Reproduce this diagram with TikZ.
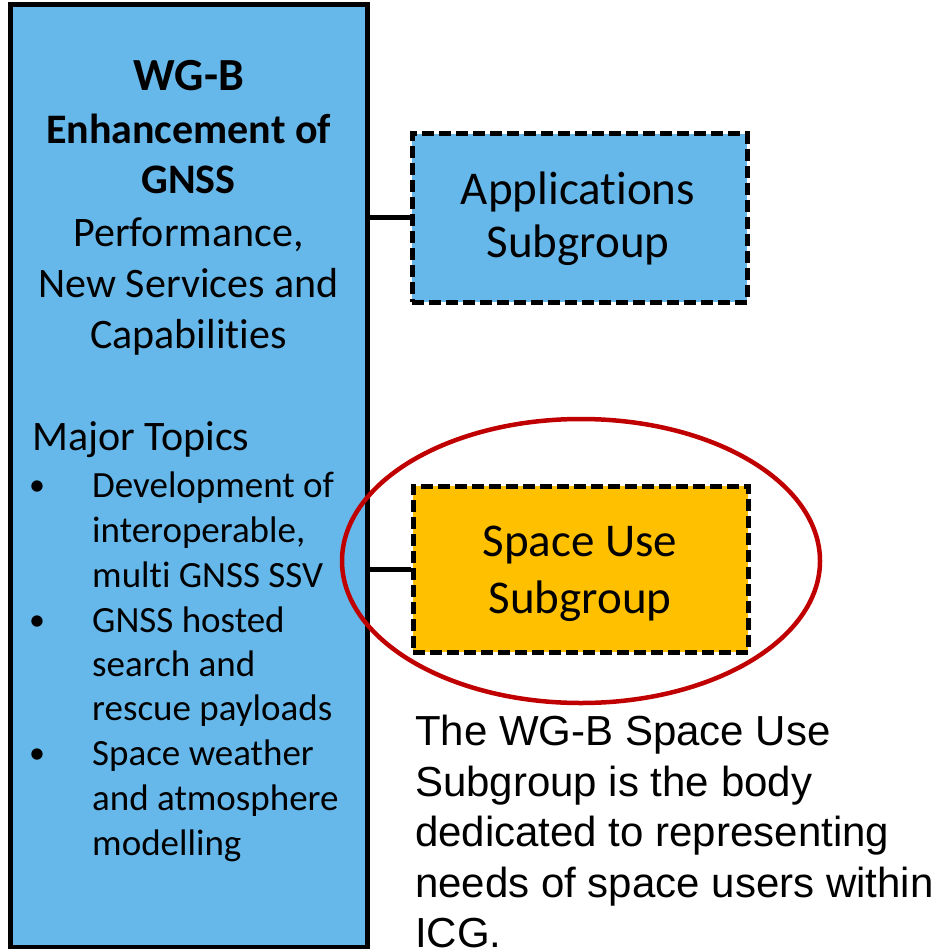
\documentclass[tikz,border=0pt]{standalone}
\usepackage{fontspec}
\setmainfont{Carlito}[Ligatures={CommonOff,ContextualOff}]
\newfontfamily\arialfont{Liberation Sans}
\usetikzlibrary{shapes.geometric}
\definecolor{boxblue}{HTML}{66B8EA}
\definecolor{boxorange}{HTML}{FFC000}
\definecolor{ringred}{HTML}{C00000}
\tikzset{
  mainbox/.style={draw=black, fill=boxblue, line width=5pt, inner sep=0pt},
  subbox/.style={draw=black, line width=5pt, dash pattern=on 12pt off 5pt, inner sep=0pt},
  conn/.style={draw=black, line width=5pt},
  hbold/.style={anchor=base, inner sep=0pt, font=\bfseries\fontsize{42}{51}\selectfont},
  hbig/.style={anchor=base, inner sep=0pt, font=\bfseries\fontsize{46}{55}\selectfont},
  hnorm/.style={anchor=base, inner sep=0pt, font=\fontsize{42}{51}\selectfont},
  bul/.style={anchor=base west, inner sep=0pt, font=\fontsize{37}{45}\selectfont},
  bdot/.style={anchor=base, inner sep=0pt, font=\fontsize{32}{45}\selectfont},
  subtxt/.style={anchor=base, inner sep=0pt, font=\fontsize{47}{57}\selectfont},
  desc/.style={anchor=base west, inner sep=0pt, font=\arialfont\fontsize{42}{50}\selectfont},
}
\begin{document}
\begin{tikzpicture}[x=1pt,y=-1pt]
\useasboundingbox (0,0) rectangle (944,949);
% main box
\node[mainbox, minimum width=357pt, minimum height=942pt] (main) at (188.5,476) {};
% sub boxes
\node[subbox, fill=boxblue, minimum width=335pt, minimum height=168pt] (app) at (579.5,218) {};
\node[subbox, fill=boxorange, minimum width=335pt, minimum height=166pt] (space) at (580.5,569) {};
% connectors
\draw[conn] (main.east |- app.west) -- (app.west);
\draw[conn] (main.east |- space.west) -- (space.west);
% heading text
\node[hbig]  (t1) at (189,90.5) {WG-B};
\node[hbold] (t2) at (188.5,144) {Enhancement of};
\node[hbold] (t3) at (188.5,194) {GNSS};
\node[hnorm] (t4) at (188.5,247) {Performance,};
\node[hnorm] (t5) at (188.5,297) {New Services and};
\node[hnorm] (t6) at (188.5,348) {Capabilities};
\node[hnorm, anchor=base west] (t7) at (32,450) {Major Topics};
% bullets
\node[bdot] (d1) at (37,495) {•};
\node[bul] (b1) at (92,497) {Development of};
\node[bul] (b2) at (92,542) {interoperable,};
\node[bul] (b3) at (92,587) {multi GNSS SSV};
\node[bdot] (d2) at (37,630) {•};
\node[bul] (b4) at (92,632) {GNSS hosted};
\node[bul] (b5) at (92,676) {search and};
\node[bul] (b6) at (92,720) {rescue payloads};
\node[bdot] (d3) at (37,763) {•};
\node[bul] (b7) at (92,765) {Space weather};
\node[bul] (b8) at (92,810) {and atmosphere};
\node[bul] (b9) at (92,855) {modelling};
% sub box text
\node[subtxt] (a1) at (578,205) {Applications};
\node[subtxt] (a2) at (578,258) {Subgroup};
\node[subtxt] (s1) at (580,556) {Space Use};
\node[subtxt] (s2) at (580,613) {Subgroup};
% description
\node[desc] (e1) at (415,745) {The WG-B Space Use};
\node[desc] (e2) at (415,796) {Subgroup is the body};
\node[desc] (e3) at (415,846.5) {dedicated to representing};
\node[desc] (e4) at (415,897) {needs of space users within};
\node[desc] (e5) at (415,947) {ICG.};
% ring
\node[ellipse, draw=ringred, line width=4.5pt, minimum width=478pt, minimum height=284pt, inner sep=0pt] (ring) at (581,561) {};
\end{tikzpicture}
\end{document}
